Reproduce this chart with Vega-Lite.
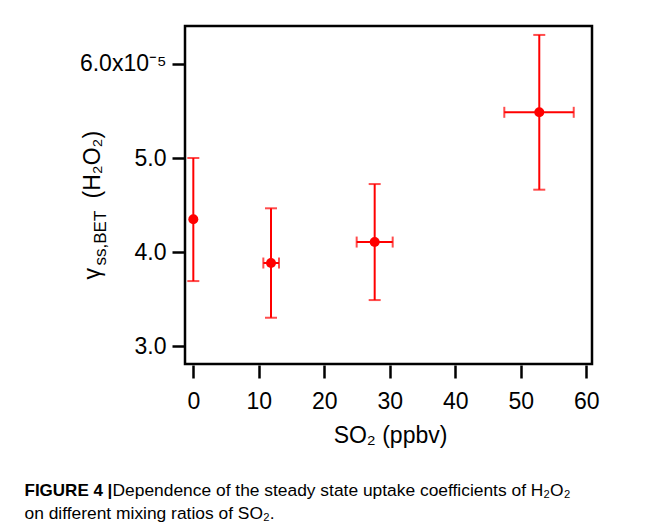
{
  "$schema": "https://vega.github.io/schema/vega-lite/v6.json",
  "autosize": "none",
  "padding": {"left": 185, "top": 26, "right": 62, "bottom": 167},
  "width": 407,
  "height": 338,
  "background": "white",
  "config": {
    "view": {"stroke": "black", "strokeWidth": 2.5},
    "axis": {"grid": false, "labelColor": "black", "titleColor": "black", "labelFont": "Liberation Sans", "titleFont": "Liberation Sans", "titleFontWeight": "normal"}
  },
  "data": {
    "values": [
      {"x": 0, "y": 0.00004348, "ylo": 0.00003691, "yhi": 0.00005, "xlo": null, "xhi": null},
      {"x": 11.86, "y": 0.00003883, "ylo": 0.00003301, "yhi": 0.00004465, "xlo": 10.69, "xhi": 13.08},
      {"x": 27.69, "y": 0.00004106, "ylo": 0.00003489, "yhi": 0.00004723, "xlo": 24.94, "xhi": 30.44},
      {"x": 52.82, "y": 0.00005486, "ylo": 0.00004663, "yhi": 0.00006309, "xlo": 47.48, "xhi": 58.08}
    ]
  },
  "resolve": {"axis": {"x": "independent", "y": "independent"}},
  "layer": [
    {
      "mark": {"type": "rule", "color": "#ff0000", "strokeWidth": 2},
      "encoding": {
        "x": {"field": "x", "type": "quantitative", "scale": {"domain": [-1.27, 60.87], "nice": false, "zero": false}, "axis": null},
        "y": {"field": "ylo", "type": "quantitative", "scale": {"domain": [0.00002809, 0.00006404], "nice": false, "zero": false}, "axis": null},
        "y2": {"field": "yhi"}
      }
    },
    {
      "mark": {"type": "tick", "color": "#ff0000", "orient": "horizontal", "size": 12, "thickness": 2},
      "encoding": {
        "x": {"field": "x", "type": "quantitative", "scale": {"domain": [-1.27, 60.87], "nice": false, "zero": false}, "axis": null},
        "y": {"field": "ylo", "type": "quantitative", "scale": {"domain": [0.00002809, 0.00006404], "nice": false, "zero": false}, "axis": null}
      }
    },
    {
      "mark": {"type": "tick", "color": "#ff0000", "orient": "horizontal", "size": 12, "thickness": 2},
      "encoding": {
        "x": {"field": "x", "type": "quantitative", "scale": {"domain": [-1.27, 60.87], "nice": false, "zero": false}, "axis": null},
        "y": {"field": "yhi", "type": "quantitative", "scale": {"domain": [0.00002809, 0.00006404], "nice": false, "zero": false}, "axis": null}
      }
    },
    {
      "mark": {"type": "rule", "color": "#ff0000", "strokeWidth": 2},
      "encoding": {
        "x": {"field": "xlo", "type": "quantitative", "scale": {"domain": [-1.27, 60.87], "nice": false, "zero": false}, "axis": null},
        "x2": {"field": "xhi"},
        "y": {"field": "y", "type": "quantitative", "scale": {"domain": [0.00002809, 0.00006404], "nice": false, "zero": false}, "axis": null}
      }
    },
    {
      "mark": {"type": "tick", "color": "#ff0000", "orient": "vertical", "size": 11, "thickness": 2},
      "encoding": {
        "x": {"field": "xlo", "type": "quantitative", "scale": {"domain": [-1.27, 60.87], "nice": false, "zero": false}, "axis": null},
        "y": {"field": "y", "type": "quantitative", "scale": {"domain": [0.00002809, 0.00006404], "nice": false, "zero": false}, "axis": null}
      }
    },
    {
      "mark": {"type": "tick", "color": "#ff0000", "orient": "vertical", "size": 11, "thickness": 2},
      "encoding": {
        "x": {"field": "xhi", "type": "quantitative", "scale": {"domain": [-1.27, 60.87], "nice": false, "zero": false}, "axis": null},
        "y": {"field": "y", "type": "quantitative", "scale": {"domain": [0.00002809, 0.00006404], "nice": false, "zero": false}, "axis": null}
      }
    },
    {
      "mark": {"type": "circle", "color": "#ff0000", "size": 100, "opacity": 1},
      "encoding": {
        "x": {"field": "x", "type": "quantitative", "scale": {"domain": [-1.27, 60.87], "nice": false, "zero": false},
          "axis": {"orient": "bottom", "offset": 1, "values": [0, 10, 20, 30, 40, 50, 60], "domain": false, "tickSize": 13, "tickWidth": 2.5, "tickColor": "black", "labelFontSize": 23, "labelPadding": 12, "labelFlush": false, "labelOverlap": false,
            "title": "SO₂ (ppbv)", "titleFontSize": 23, "titleX": 205, "titleY": 77, "titleAlign": "center", "titleBaseline": "alphabetic", "titleAngle": 0}},
        "y": {"field": "y", "type": "quantitative", "scale": {"domain": [0.00002809, 0.00006404], "nice": false, "zero": false},
          "axis": {"orient": "left", "values": [0.00003, 0.00004, 0.00005, 0.00006], "domain": false, "tickSize": 13, "tickWidth": 2.5, "tickColor": "black", "labelFontSize": 23, "labelPadding": 6, "labelFlush": false, "labelOverlap": false,
            "labelExpr": "round(datum.value*1e5) == 6 ? '6.0x10⁻⁵' : format(datum.value*1e5, '.1f')",
            "title": "(H₂O₂)", "titleFontSize": 23, "titleAngle": 270, "titleAlign": "left", "titleBaseline": "alphabetic", "titleX": -86, "titleY": 172}}
      }
    },
    {
      "mark": {"type": "point", "opacity": 0},
      "encoding": {
        "x": {"field": "x", "type": "quantitative", "scale": {"domain": [-1.27, 60.87], "nice": false, "zero": false},
          "axis": {"orient": "top", "labels": false, "ticks": false, "domain": false, "title": "FIGURE 4 |", "titleFontWeight": "bold", "titleFontSize": 17, "titleAngle": 0, "titleAlign": "left", "titleBaseline": "alphabetic", "titleX": -161, "titleY": 469}},
        "y": {"field": "y", "type": "quantitative", "scale": {"domain": [0.00002809, 0.00006404], "nice": false, "zero": false},
          "axis": {"orient": "left", "labels": false, "ticks": false, "domain": false, "title": "γ", "titleFontSize": 23, "titleAngle": 270, "titleAlign": "left", "titleBaseline": "alphabetic", "titleX": -86, "titleY": 253}}
      }
    },
    {
      "mark": {"type": "point", "opacity": 0},
      "encoding": {
        "x": {"field": "x", "type": "quantitative", "scale": {"domain": [-1.27, 60.87], "nice": false, "zero": false},
          "axis": {"orient": "top", "labels": false, "ticks": false, "domain": false, "title": "Dependence of the steady state uptake coefficients of H₂O₂", "titleFontSize": 17.4, "titleAngle": 0, "titleAlign": "left", "titleBaseline": "alphabetic", "titleX": -73, "titleY": 469}},
        "y": {"field": "y", "type": "quantitative", "scale": {"domain": [0.00002809, 0.00006404], "nice": false, "zero": false},
          "axis": {"orient": "left", "labels": false, "ticks": false, "domain": false, "title": "ss,BET", "titleFontSize": 17, "titleAngle": 270, "titleAlign": "left", "titleBaseline": "alphabetic", "titleX": -80, "titleY": 239}}
      }
    },
    {
      "mark": {"type": "point", "opacity": 0},
      "encoding": {
        "x": {"field": "x", "type": "quantitative", "scale": {"domain": [-1.27, 60.87], "nice": false, "zero": false},
          "axis": {"orient": "top", "labels": false, "ticks": false, "domain": false, "title": "on different mixing ratios of SO₂.", "titleFontSize": 17.4, "titleAngle": 0, "titleAlign": "left", "titleBaseline": "alphabetic", "titleX": -161, "titleY": 492}},
        "y": {"field": "y", "type": "quantitative", "scale": {"domain": [0.00002809, 0.00006404], "nice": false, "zero": false}, "axis": null}
      }
    }
  ]
}
